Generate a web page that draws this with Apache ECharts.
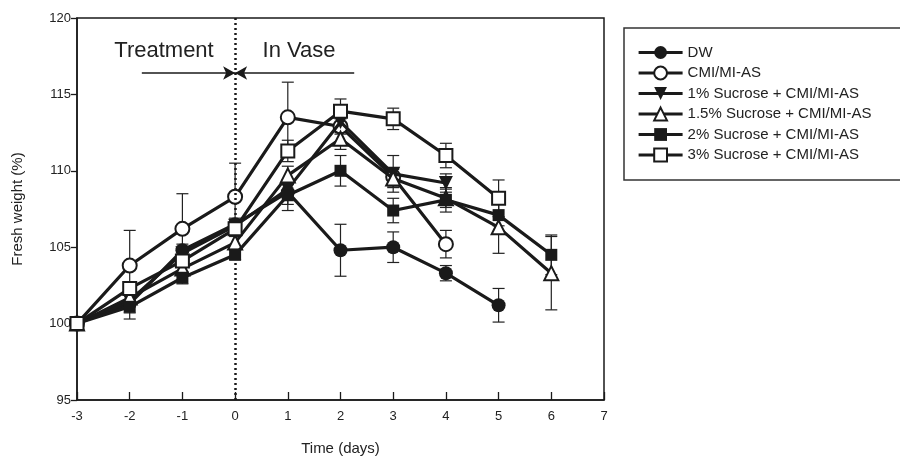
<!DOCTYPE html>
<html>
<head>
<meta charset="utf-8">
<script src="https://cdn.jsdelivr.net/npm/echarts@6/dist/echarts.min.js"></script>
<style>html,body{margin:0;padding:0;background:#fff}#c{width:900px;height:462px}</style>
</head>
<body>
<div id="c"></div>
<script>
const days = [-3, -2, -1, 0, 1, 2, 3, 4, 5, 6];
const seriesNames = ['DW', 'CMI/MI-AS', '1% Sucrose + CMI/MI-AS', '1.5% Sucrose + CMI/MI-AS', '2% Sucrose + CMI/MI-AS', '3% Sucrose + CMI/MI-AS'];
const dw   = [100, 101.3, 104.8, 106.5, 108.6, 104.8, 105.0, 103.3, 101.2, null];
const cmi  = [100, 103.8, 106.2, 108.3, 113.5, 112.9, 109.6, 105.2, null, null];
const s1   = [100, 101.5, 104.6, 106.4, 108.8, 113.2, 109.8, 109.2, null, null];
const s15  = [100, 101.7, 103.6, 105.3, 109.7, 112.1, 109.5, 108.2, 106.3, 103.3];
const s2   = [100, 101.1, 103.0, 104.5, 108.4, 110.0, 107.4, 108.1, 107.1, 104.5];
const s3   = [100, 102.3, 104.1, 106.2, 111.3, 113.9, 113.4, 111.0, 108.2, null];
const dwErr  = [0, 0.6, 0.4, 0.4, 0.8, 1.7, 1.0, 0.5, 1.1, null];
const cmiErr = [0, 2.3, 2.3, 2.2, 2.3, 0.5, 0.6, 0.9, null, null];
const s1Err  = [0, 0.4, 0.4, 0.3, 0.6, 0.7, 1.2, 0.6, null, null];
const s15Err = [0, 0.5, 0.4, 0.4, 0.6, 0.7, 0.6, 0.6, 1.7, 2.4];
const s2Err  = [0, 0.8, 0.4, 0.3, 1.0, 1.0, 0.8, 0.8, 0.7, 1.3];
const s3Err  = [0, 0.4, 0.4, 0.4, 0.7, 0.8, 0.7, 0.8, 1.2, null];
const phaseY = 116.4;
const treatStart = -1.77, phaseSplit = 0, vaseEnd = 2.26;

const values = [dw, cmi, s1, s15, s2, s3];
const errs = [dwErr, cmiErr, s1Err, s15Err, s2Err, s3Err];
const symbols = ['circle', 'emptyCircle', 'triangle', 'emptyTriangle', 'rect', 'emptyRect'];
const rotates = [0, 0, 180, 0, 0, 0];
const sizes = [14, 14, 14, 14, 12, 13];

const pairs = v => days.map((d, i) => v[i] == null ? null : [d, v[i]]).filter(p => p);

const series = [];
values.forEach((v, k) => {
  series.push({
    type: 'custom', name: seriesNames[k] + ' err', z: 1, silent: true,
    data: days.map((d, i) => v[i] == null || !errs[k][i] ? null : [d, v[i] - errs[k][i], v[i] + errs[k][i]]).filter(p => p),
    renderItem: (params, api) => {
      const lo = api.coord([api.value(0), api.value(1)]);
      const hi = api.coord([api.value(0), api.value(2)]);
      const w = 6;
      const st = { stroke: '#222', lineWidth: 1.2 };
      return { type: 'group', children: [
        { type: 'line', shape: { x1: lo[0], y1: lo[1], x2: hi[0], y2: hi[1] }, style: st },
        { type: 'line', shape: { x1: lo[0] - w, y1: lo[1], x2: lo[0] + w, y2: lo[1] }, style: st },
        { type: 'line', shape: { x1: hi[0] - w, y1: hi[1], x2: hi[0] + w, y2: hi[1] }, style: st }
      ]};
    }
  });
});
values.forEach((v, k) => {
  series.push({
    type: 'line', name: seriesNames[k], z: 3 + k,
    data: pairs(v),
    symbol: symbols[k], symbolSize: sizes[k], symbolRotate: rotates[k], showAllSymbol: true,
    lineStyle: { color: '#1a1a1a', width: 3.2 },
    itemStyle: { color: '#1a1a1a', borderWidth: 1.5 },
    emphasis: { disabled: true }
  });
});
series[6].markLine = {
  silent: true, symbol: 'none', animation: false,
  lineStyle: { color: '#1a1a1a', type: [2, 3], width: 2.5 },
  label: { show: false },
  data: [{ xAxis: phaseSplit }]
};
series[7].markLine = {
  silent: true, animation: false, symbol: ['none', 'arrow'], symbolSize: [10, 12],
  lineStyle: { color: '#1a1a1a', type: 'solid', width: 1.5 },
  label: { show: false },
  data: [
    [{ coord: [treatStart, phaseY] }, { coord: [phaseSplit, phaseY] }],
    [{ coord: [vaseEnd, phaseY] }, { coord: [phaseSplit, phaseY] }]
  ]
};

const chart = echarts.init(document.getElementById('c'), null, { renderer: 'canvas' });
chart.setOption({
  animation: false,
  backgroundColor: '#fff',
  textStyle: { fontFamily: 'Liberation Sans, Arial, sans-serif' },
  grid: { left: 77, right: 296, top: 18, bottom: 62, show: true, borderColor: '#1a1a1a', borderWidth: 1.5, backgroundColor: 'transparent' },
  xAxis: {
    type: 'value', min: -3, max: 7, interval: 1,
    name: 'Time (days)', nameLocation: 'middle', nameGap: 41,
    nameTextStyle: { fontSize: 15, color: '#222' },
    axisLine: { onZero: false, lineStyle: { color: '#1a1a1a', width: 1.5 } },
    axisTick: { inside: true, length: 8, lineStyle: { color: '#1a1a1a', width: 1.3 } },
    axisLabel: { fontSize: 13, color: '#222', margin: 10 },
    splitLine: { show: false }
  },
  yAxis: {
    type: 'value', min: 95, max: 120, interval: 5,
    name: 'Fresh weight (%)', nameLocation: 'middle', nameGap: 52, nameRotate: 90,
    nameTextStyle: { fontSize: 15, color: '#222' },
    axisLine: { onZero: false, lineStyle: { color: '#1a1a1a', width: 1.5 } },
    axisTick: { inside: false, length: 6, lineStyle: { color: '#1a1a1a', width: 1.3 } },
    axisLabel: { fontSize: 13, color: '#222', margin: 6 },
    splitLine: { show: false }
  },
  legend: {
    data: seriesNames, orient: 'vertical', left: 632, top: 40,
    itemWidth: 44, itemHeight: 16, itemGap: 5.5,
    lineStyle: { width: 3.2, color: '#1a1a1a' },
    textStyle: { fontSize: 15, color: '#222' },
    selectedMode: false
  },
  graphic: [
    { type: 'rect', shape: { x: 624, y: 28, width: 290, height: 152 }, style: { fill: 'none', stroke: '#333', lineWidth: 1.5 }, z: -1 },
    { type: 'text', x: 164, y: 51, style: { text: 'Treatment', fontSize: 22, fill: '#222', align: 'center', verticalAlign: 'middle', fontFamily: 'Liberation Sans, Arial, sans-serif' } },
    { type: 'text', x: 299, y: 51, style: { text: 'In Vase', fontSize: 22, fill: '#222', align: 'center', verticalAlign: 'middle', fontFamily: 'Liberation Sans, Arial, sans-serif' } }
  ],
  series: series
});
</script>
</body>
</html>
